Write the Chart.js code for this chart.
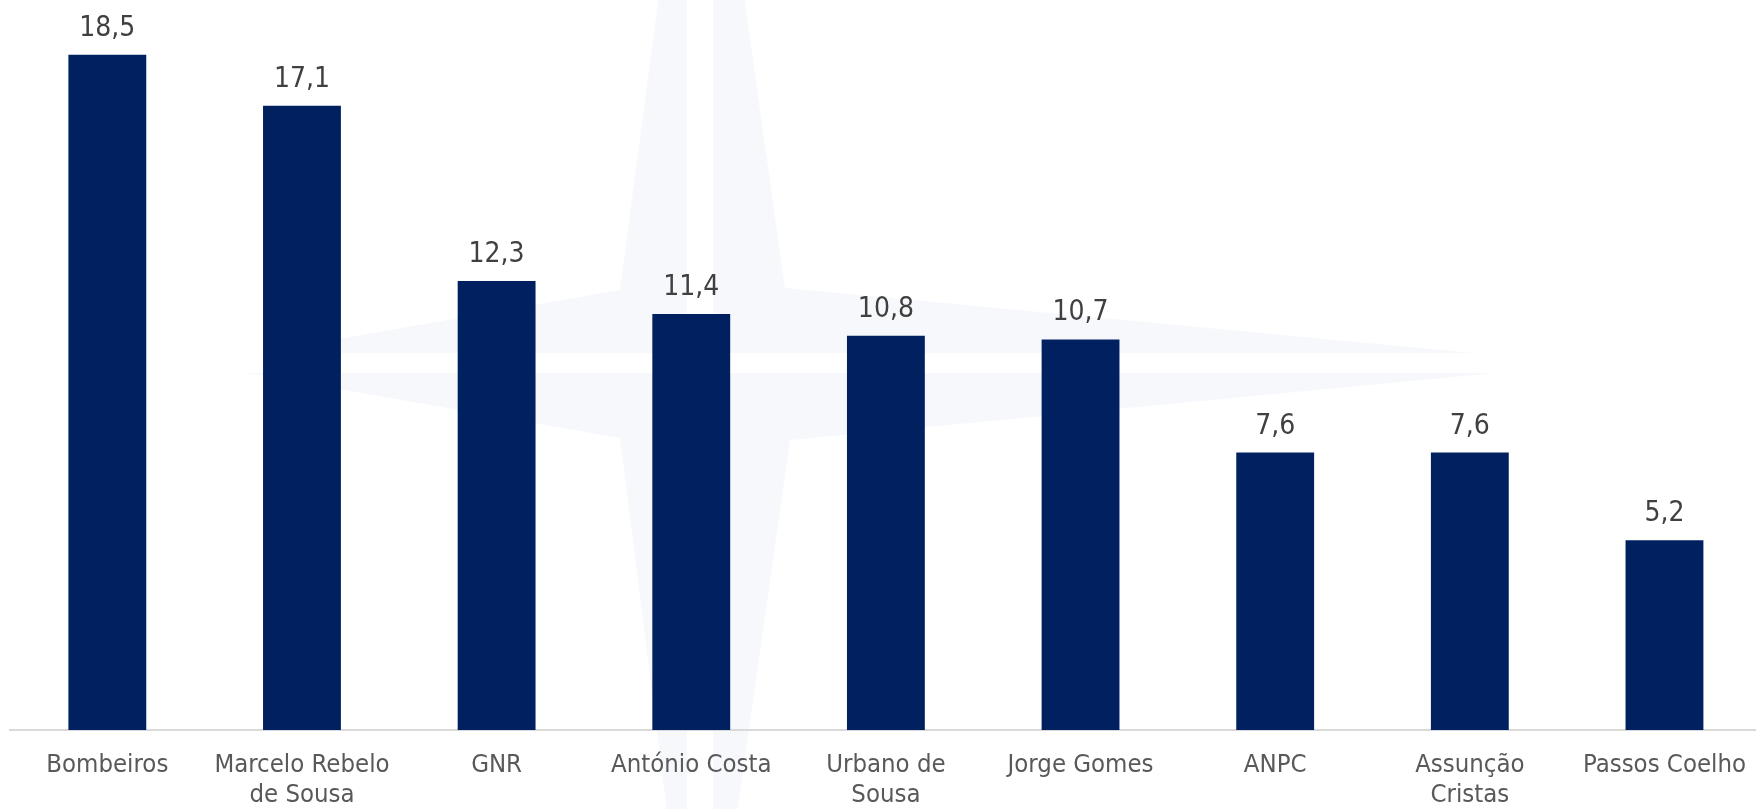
<!DOCTYPE html>
<html>
<head>
<meta charset="utf-8">
<script src="https://cdn.jsdelivr.net/npm/chart.js@4.4.0/dist/chart.umd.min.js"></script>
<style>
  html, body { margin: 0; padding: 0; background: #fff; overflow: hidden; width: 1756px; height: 809px; }
  #wrap { width: 1766px; height: 809px; position: relative; }
</style>
</head>
<body>
<div id="wrap"><canvas id="chart"></canvas></div>
<script>
// data
const categories = ['Bombeiros', ['Marcelo Rebelo', 'de Sousa'], 'GNR', 'António Costa', ['Urbano de', 'Sousa'], 'Jorge Gomes', 'ANPC', ['Assunção', 'Cristas'], 'Passos Coelho'];
const values = [18.5, 17.1, 12.3, 11.4, 10.8, 10.7, 7.6, 7.6, 5.2];
const yMin = 0;
const yMax = 20;

const FONT = '"DejaVu Sans Condensed", "DejaVu Sans", sans-serif';

// faint compass star behind the bars
const watermark = {
  id: 'watermark',
  beforeDraw(chart) {
    const ctx = chart.ctx;
    ctx.save();
    ctx.fillStyle = 'rgb(246,248,252)';
    ctx.beginPath();
    ctx.moveTo(700, -317);
    ctx.lineTo(785, 288);
    ctx.lineTo(1590, 364);
    ctx.lineTo(790, 440);
    ctx.lineTo(700, 1074);
    ctx.lineTo(620, 438);
    ctx.lineTo(195, 364);
    ctx.lineTo(620, 290);
    ctx.closePath();
    ctx.fill();
    // white cuts through the star
    ctx.fillStyle = '#ffffff';
    ctx.fillRect(0, 353, chart.width, 20);
    ctx.fillRect(687, 0, 26, chart.height);
    ctx.restore();
  }
};

// value labels above bars, decimal comma
const valueLabels = {
  id: 'valueLabels',
  afterDatasetsDraw(chart) {
    const ctx = chart.ctx;
    const meta = chart.getDatasetMeta(0);
    ctx.save();
    ctx.font = '28px ' + FONT;
    ctx.fillStyle = '#404040';
    ctx.textAlign = 'center';
    ctx.textBaseline = 'alphabetic';
    meta.data.forEach((bar, i) => {
      const txt = values[i].toFixed(1).replace('.', ',');
      ctx.fillText(txt, bar.x, bar.y - 19);
    });
    ctx.restore();
  }
};

new Chart(document.getElementById('chart'), {
  type: 'bar',
  data: {
    labels: categories,
    datasets: [{
      data: values,
      backgroundColor: '#002060',
      borderWidth: 0,
      barPercentage: 0.4,
      categoryPercentage: 1.0
    }]
  },
  options: {
    responsive: true,
    maintainAspectRatio: false,
    animation: false,
    devicePixelRatio: 1,
    layout: { padding: { left: 10, top: 0, right: 0, bottom: 0 } },
    plugins: {
      legend: { display: false },
      tooltip: { enabled: false }
    },
    scales: {
      x: {
        grid: { display: false, drawTicks: false },
        border: { display: true, color: '#d9d9d9', width: 2 },
        ticks: {
          color: '#595959',
          font: { family: FONT, size: 25.5, lineHeight: 1.18 },
          padding: 20,
          maxRotation: 0,
          autoSkip: false
        },
        afterFit(scale) { scale.height = 79; }
      },
      y: {
        display: false,
        min: yMin,
        max: yMax
      }
    }
  },
  plugins: [watermark, valueLabels]
});
</script>
</body>
</html>
